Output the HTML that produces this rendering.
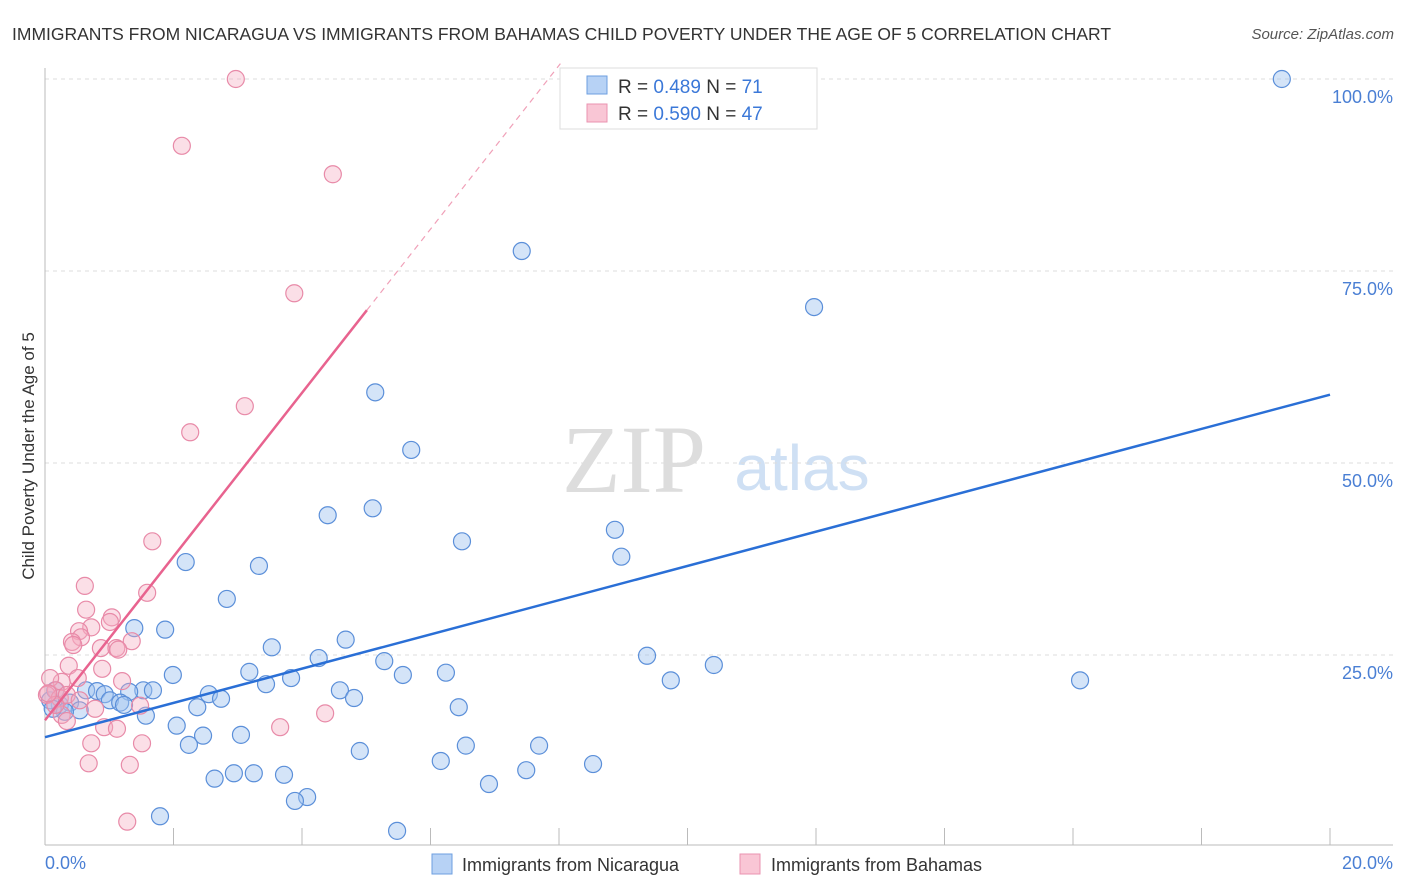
<!DOCTYPE html>
<html><head><meta charset="utf-8"><style>
body{margin:0;background:#fff;font-family:"Liberation Sans",sans-serif}
svg{display:block}
</style></head><body>
<svg width="1406" height="892" xmlns="http://www.w3.org/2000/svg">
<text x="12" y="40" font-size="17.5" fill="#333">IMMIGRANTS FROM NICARAGUA VS IMMIGRANTS FROM BAHAMAS CHILD POVERTY UNDER THE AGE OF 5 CORRELATION CHART</text>
<text x="1394" y="39" font-size="15" fill="#555" font-style="italic" text-anchor="end">Source: ZipAtlas.com</text>
<text x="634" y="492" font-size="96" fill="#ddd" font-family="Liberation Serif,serif" text-anchor="middle">ZIP</text>
<text x="802" y="490" font-size="64" fill="#cfe0f4" text-anchor="middle">atlas</text>
<g id="grid"></g>
<g id="axes"></g>
<g id="pts"></g>
<g id="lines"></g>
<text x="34" y="456" font-size="17" fill="#333" text-anchor="middle" transform="rotate(-90 34 456)">Child Poverty Under the Age of 5</text>
<text x="45" y="869" font-size="18" fill="#4a7fd4">0.0%</text>
<text x="1393" y="869" font-size="18" fill="#4a7fd4" text-anchor="end">20.0%</text>
<g>
<rect x="560" y="68" width="257" height="61" fill="#fff" stroke="#ddd"/>
<rect x="587" y="76" width="20" height="18" fill="#b7d2f5" stroke="#6e9fe0"/>
<rect x="587" y="104" width="20" height="18" fill="#f9c6d5" stroke="#ea93b0"/>
<text x="618" y="93" font-size="19" fill="#333">R = <tspan fill="#3b78d8">0.489</tspan>   N = <tspan fill="#3b78d8">71</tspan></text>
<text x="618" y="120" font-size="19" fill="#333">R = <tspan fill="#3b78d8">0.590</tspan>   N = <tspan fill="#3b78d8">47</tspan></text>
</g>
<g><rect x="432" y="854" width="20" height="20" fill="#b7d2f5" stroke="#6e9fe0"/><text x="462" y="871" font-size="18" fill="#333">Immigrants from Nicaragua</text></g>
<g><rect x="740" y="854" width="20" height="20" fill="#f9c6d5" stroke="#ea93b0"/><text x="771" y="871" font-size="18" fill="#333">Immigrants from Bahamas</text></g>
</svg>
<script>
const yTicks=[25,50,75,100];
const yTickLabels=["25.0%","50.0%","75.0%","100.0%"];
const xTicks=[0,2,4,6,8,10,12,14,16,18,20];
const nicX=[19.25,7.42,11.97,5.14,5.70,4.40,5.10,6.49,8.87,8.97,2.19,3.33,2.83,1.39,1.87,3.53,4.68,4.26,9.37,10.41,5.28,3.18,5.57,6.24,1.99,3.83,3.44,9.74,16.11,4.59,0.64,0.81,0.93,1.53,1.68,1.31,2.55,4.81,2.74,1.01,1.17,1.23,0.23,0.39,0.54,2.37,6.44,1.57,2.05,2.46,3.05,2.24,6.55,7.69,4.90,6.16,8.53,7.49,2.94,3.25,3.72,2.64,6.91,4.08,3.89,1.79,5.48,0.08,0.16,0.31,0.12];
const nicY=[100,77.6,70.3,59.2,51.7,43.2,44.1,39.8,41.3,37.8,37.1,36.6,32.3,28.5,28.3,26.0,27.0,24.6,24.9,23.7,24.2,22.8,22.4,22.7,22.4,22.0,21.2,21.7,21.7,20.4,20.4,20.3,19.9,20.4,20.4,20.2,19.9,19.4,19.3,19.1,18.8,18.5,18.5,18.8,17.8,18.2,18.2,17.1,15.8,14.5,14.6,13.3,13.2,13.2,12.5,11.2,10.8,10.0,9.6,9.6,9.4,8.9,8.2,6.5,6.0,4.0,2.1,19.1,20.4,17.6,18.0];
const bahX=[2.97,2.13,4.48,3.88,3.11,2.26,1.67,0.62,1.59,0.64,1.04,1.01,0.72,0.53,0.56,0.42,0.44,1.35,1.11,1.14,0.87,0.37,0.89,1.20,0.51,0.26,0.08,0.17,0.03,0.23,0.34,1.48,0.78,0.26,4.36,0.34,3.66,0.92,1.12,0.72,1.51,0.68,1.32,1.28,0.16,0.54,0.05];
const bahY=[100,91.3,87.6,72.1,57.4,54.0,39.8,34.0,33.1,30.9,29.9,29.3,28.6,28.1,27.3,26.7,26.3,26.8,25.9,25.7,25.9,23.6,23.2,21.6,22.0,21.5,22.0,20.4,19.8,19.4,19.8,18.4,18.0,17.2,17.4,16.4,15.6,15.6,15.4,13.5,13.5,10.9,10.7,3.3,18.5,19.1,20.0];
const nicFit=[14.3,58.9];
const bahFit=[16.5,69.9,5.01];
const X=v=>45+v*64.25, Y=v=>847-v*7.68;
const NS="http://www.w3.org/2000/svg";
function mk(p,t,a){const e=document.createElementNS(NS,t);for(const k in a)e.setAttribute(k,a[k]);p.appendChild(e);return e;}
const grid=document.getElementById('grid'),axes=document.getElementById('axes'),pts=document.getElementById('pts'),lines=document.getElementById('lines');
yTicks.forEach((t,i)=>{
 const l=mk(grid,'line',{x1:45,x2:1393,y1:Y(t),y2:Y(t),stroke:'#ddd','stroke-dasharray':'4,4'});
 
 
 const tx=mk(grid,'text',{x:1393,y:Y(t)+24,'font-size':18,fill:'#4a7fd4','text-anchor':'end'});
 tx.textContent=yTickLabels[i];
 
 
});
const ya=mk(axes,'line',{x1:45,x2:45,y1:68,y2:845,stroke:'#bbb'});


const xa=mk(axes,'line',{x1:45,x2:1393,y1:845,y2:845,stroke:'#bbb'});


xTicks.forEach(t=>{
 const l=mk(axes,'line',{x1:X(t),x2:X(t),y1:828,y2:845,stroke:'#bbb'});
 
 
});
nicX.forEach((v,i)=>{
 const c=mk(pts,'circle',{cx:X(v),cy:Y(nicY[i]),r:8.5,fill:'rgba(160,196,240,0.45)',stroke:'#5b8fd9','stroke-width':1.2});
 
 
});
bahX.forEach((v,i)=>{
 const c=mk(pts,'circle',{cx:X(v),cy:Y(bahY[i]),r:8.5,fill:'rgba(244,170,192,0.38)',stroke:'#e88aa8','stroke-width':1.2});
 
 
});
const nl=mk(lines,'line',{x1:X(0),y1:Y(nicFit[0]),x2:X(20),y2:Y(nicFit[1]),stroke:'#2a6fd6','stroke-width':2.5});


const slope=(bahFit[1]-bahFit[0])/bahFit[2];
const bl=mk(lines,'line',{x1:X(0),y1:Y(bahFit[0]),x2:X(bahFit[2]),y2:Y(bahFit[1]),stroke:'#e8638f','stroke-width':2.5});


const xe=(102-bahFit[0])/slope;
const bd=mk(lines,'line',{x1:X(bahFit[2]),y1:Y(bahFit[1]),x2:X(xe),y2:Y(102),stroke:'#f0a0b8','stroke-width':1.2,'stroke-dasharray':'6,5'});


</script>
</body></html>
